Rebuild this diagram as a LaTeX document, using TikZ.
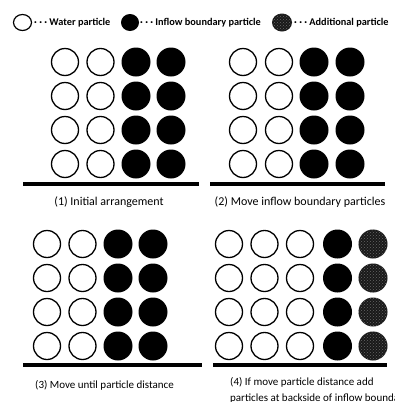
\documentclass[tikz,border=0pt]{standalone}
\usepackage{fontspec}
\setmainfont{Carlito}
\usetikzlibrary{patterns,shapes.geometric}
\begin{document}
\begin{tikzpicture}[x=1pt,y=-1pt,
  water/.style={circle,draw=black,line width=1.3pt,fill=white,minimum size=27pt,inner sep=0pt},
  inflow/.style={circle,fill=black,minimum size=29pt,inner sep=0pt},
  addp/.style={circle,fill=black!90,minimum size=29pt,inner sep=0pt,
    postaction={pattern=crosshatch dots,pattern color=black!60}},
  lwater/.style={ellipse,draw=black,line width=1.2pt,minimum width=18pt,minimum height=16pt,inner sep=0pt},
  linflow/.style={ellipse,fill=black,minimum width=18pt,minimum height=17pt,inner sep=0pt},
  laddp/.style={ellipse,fill=black!90,minimum width=20pt,minimum height=18pt,inner sep=0pt,
    postaction={pattern=crosshatch dots,pattern color=black!60}},
  legtext/.style={anchor=west,inner sep=0pt,font=\fontsize{10.3}{12}\selectfont\bfseries},
  caption/.style={inner sep=0pt,font=\fontsize{12}{16}\selectfont},
  captionb/.style={inner sep=0pt,font=\fontsize{11}{16}\selectfont},
  ground/.style={line width=4pt}]
\useasboundingbox (0,0) rectangle (394,402);
% legend
\node[lwater] (lw) at (22.5,22.5) {};
\node[legtext] (lwt) at (34,23) {· · · Water particle};
\node[linflow] (li) at (130,22.5) {};
\node[legtext] (lit) at (140,23) {· · · Inflow boundary particle};
\node[laddp] (la) at (282,22.5) {};
\node[legtext] (lat) at (294,23) {· · · Additional particle};
% panel 1
\foreach \r/\y in {1/62,2/96,3/130,4/164}{
  \node[water] (a\r1) at (65,\y) {};
  \node[water] (a\r2) at (100.5,\y) {};
  \node[inflow] (a\r3) at (136,\y) {};
  \node[inflow] (a\r4) at (171,\y) {};
}
\coordinate (g1a) at (23,184); \coordinate (g1b) at (199,184);
\draw[ground] (g1a) -- (g1b);
\node[caption] (c1) at (109,202) {(1) Initial arrangement};
% panel 2
\foreach \r/\y in {1/62,2/96,3/130,4/164}{
  \node[water] (b\r1) at (243,\y) {};
  \node[water] (b\r2) at (279,\y) {};
  \node[inflow] (b\r3) at (314,\y) {};
  \node[inflow] (b\r4) at (350,\y) {};
}
\coordinate (g2a) at (210,184); \coordinate (g2b) at (385,184);
\draw[ground] (g2a) -- (g2b);
\node[caption] (c2) at (300,202) {(2) Move inflow boundary particles};
% panel 3
\foreach \r/\y in {1/244,2/278,3/312,4/346}{
  \node[water] (c\r1) at (47,\y) {};
  \node[water] (c\r2) at (82.5,\y) {};
  \node[inflow] (c\r3) at (118,\y) {};
  \node[inflow] (c\r4) at (153,\y) {};
}
\coordinate (g3a) at (23,365); \coordinate (g3b) at (202,365);
\draw[ground] (g3a) -- (g3b);
\node[captionb,anchor=west] (c3) at (35,385) {(3) Move until particle distance};
% panel 4
\foreach \r/\y in {1/244,2/278,3/312,4/346}{
  \node[water] (d\r1) at (229,\y) {};
  \node[water] (d\r2) at (264.5,\y) {};
  \node[water] (d\r3) at (300,\y) {};
  \node[inflow] (d\r4) at (337.5,\y) {};
  \node[addp] (d\r5) at (373,\y) {};
}
\coordinate (g4a) at (213,365); \coordinate (g4b) at (387,365);
\draw[ground] (g4a) -- (g4b);
\node[captionb,anchor=north west,align=left] (c4) at (230,377) {(4) If move particle distance add\\particles at backside of inflow boundary};
\end{tikzpicture}
\end{document}
